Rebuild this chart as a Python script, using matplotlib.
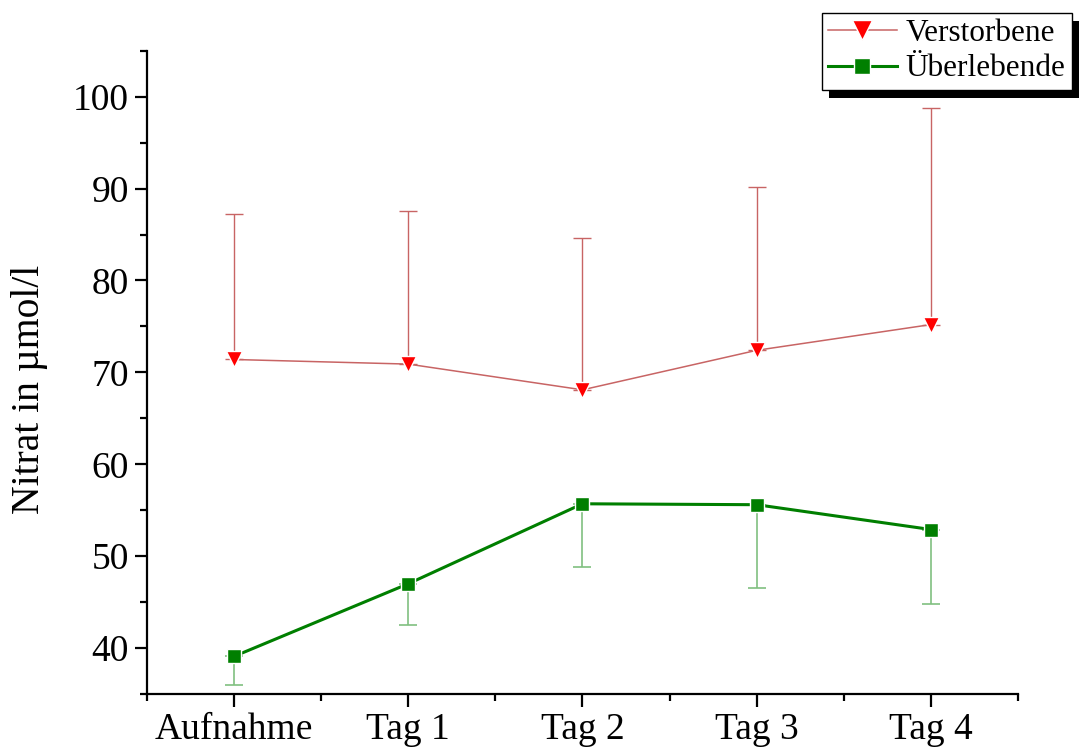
import numpy as np
import matplotlib.pyplot as plt
from matplotlib.patches import Rectangle
from matplotlib.ticker import MultipleLocator

plt.rcParams['font.family'] = ['Liberation Serif', 'DejaVu Serif']

# Nitrat-Werte (Mittelwert, Fehlerbalken nur in eine Richtung)
tage = ['Aufnahme', 'Tag 1', 'Tag 2', 'Tag 3', 'Tag 4']
verstorbene = [71.4, 70.9, 68.1, 72.4, 75.2]
verstorbene_oben = [87.2, 87.6, 84.6, 90.2, 98.8]
ueberlebende = [39.1, 47.0, 55.7, 55.6, 52.9]
ueberlebende_unten = [36.0, 42.5, 48.8, 46.5, 44.8]

x = np.arange(len(tage))
v = np.array(verstorbene)
u = np.array(ueberlebende)
v_err = [np.zeros(len(v)), np.array(verstorbene_oben) - v]
u_err = [u - np.array(ueberlebende_unten), np.zeros(len(u))]

fig = plt.figure(figsize=(10.81, 7.49), dpi=100)
ax = fig.add_axes([0.136, 0.0734, 0.8057, 0.8589])

rot = '#c86464'
gruen = '#007f00'

ax.errorbar(x, v, yerr=v_err, fmt='none', ecolor=rot, elinewidth=1.0,
            capsize=6.5, capthick=1.0)
ax.errorbar(x, u, yerr=u_err, fmt='none', ecolor='#80c080', elinewidth=1.2,
            capsize=6.5, capthick=1.2)
ax.plot(x, v, color=rot, lw=1.1, marker='v', ms=12, mfc='red', mec='white',
        mew=1.0, label='Verstorbene')
ax.plot(x, u, color=gruen, lw=2.2, marker='s', ms=10, mfc=gruen, mec='white',
        mew=1.0, label='Überlebende')

ax.set_xlim(-0.5, 4.5)
ax.set_ylim(35, 105)
ax.set_xticks(x)
ax.set_xticklabels(tage)
ax.xaxis.set_minor_locator(MultipleLocator(0.5))
ax.yaxis.set_major_locator(MultipleLocator(10))
ax.yaxis.set_minor_locator(MultipleLocator(5))
ax.tick_params(which='major', direction='out', length=9, width=1.6,
               labelsize=27, pad=4)
ax.tick_params(which='minor', direction='out', length=5, width=1.6)
for s in ['top', 'right']:
    ax.spines[s].set_visible(False)
for s in ['left', 'bottom']:
    ax.spines[s].set_linewidth(1.6)

ax.set_ylabel('Nitrat in µmol/l', fontsize=28.5)
ax.yaxis.set_label_coords(-0.114, 0.473)

leg = fig.legend(loc='upper right', bbox_to_anchor=(1072 / 1081, 1 - 13 / 749),
                 bbox_transform=fig.transFigure, fontsize=22.5, frameon=True,
                 fancybox=False, edgecolor='black', framealpha=1,
                 borderaxespad=0, handlelength=2.2, handletextpad=0.3,
                 borderpad=0.2, labelspacing=0.2, markerscale=1.15)
leg.get_frame().set_linewidth(1.0)

# Schatten hinter der Legende
fig.canvas.draw()
bb = leg.get_frame().get_window_extent().transformed(fig.transFigure.inverted())
schatten = Rectangle((bb.x0 + 7 / 1081, bb.y0 - 8 / 749), bb.width, bb.height,
                     transform=fig.transFigure, facecolor='black',
                     edgecolor='none', zorder=leg.get_zorder() - 1)
fig.patches.append(schatten)

fig.savefig('out.png', dpi=100)
